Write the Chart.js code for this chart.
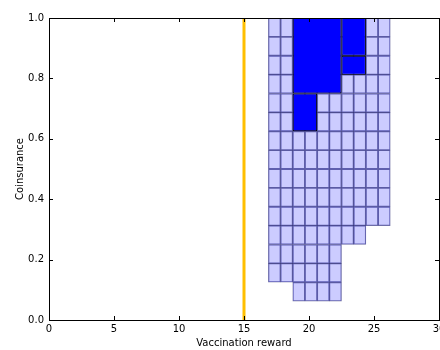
<!DOCTYPE html>
<html>
<head>
<meta charset="utf-8">
<script src="https://cdn.jsdelivr.net/npm/chart.js@4/dist/chart.umd.min.js"></script>
<style>
  html, body { margin: 0; padding: 0; background: #fff; overflow: hidden; }
  #wrap { width: 440px; height: 350px; }
</style>
</head>
<body>
<div id="wrap"><canvas id="c" width="440" height="350"></canvas></div>
<script>
// Grid of feasible cells: each column has a left edge, a lowest value and a top value
const cellWidth = 0.9375;
const rowHeight = 0.0625;
const colLeft   = [16.875, 17.8125, 18.75, 19.6875, 20.625, 21.5625, 22.5, 23.4375, 24.375, 25.3125];
const colBottom = [0.125, 0.125, 0.0625, 0.0625, 0.0625, 0.0625, 0.25, 0.25, 0.3125, 0.3125];
const colTop    = [1.0, 1.0, 1.0, 1.0, 1.0, 1.0, 1.0, 1.0, 1.0, 1.0];

// Highlighted regions [xStart, xEnd, yStart, yEnd]
const blocks = [
  [18.75, 22.5,    0.75,   1.0],
  [18.75, 20.625,  0.625,  0.75],
  [22.5,  24.375,  0.875,  1.0],
  [22.5,  24.375,  0.8125, 0.875]
];

// Reference vertical line
const thresholdX = 15;

// Axis ticks
const xTicks = [0, 5, 10, 15, 20, 25, 30];
const yTicks = [0.0, 0.2, 0.4, 0.6, 0.8, 1.0];

// One floating bar per cell
const cellData = [];
colLeft.forEach((left, i) => {
  const n = Math.round((colTop[i] - colBottom[i]) / rowHeight);
  for (let r = 0; r < n; r++) {
    const y0 = colBottom[i] + r * rowHeight;
    cellData.push({ x: left + cellWidth / 2, y: [y0, y0 + rowHeight] });
  }
});

// Cell edges, used as the base spacing of the block axis
const cellEdges = colLeft.concat([colLeft[colLeft.length - 1] + cellWidth]);

// One bar per highlighted region, its width a whole number of cells
const blockDatasets = blocks.map(([x0, x1, y0, y1], k) => ({
  label: 'block ' + (k + 1),
  xAxisID: 'xb',
  data: [{ x: (x0 + x1) / 2, y: [y0, y1] }],
  order: 0,
  backgroundColor: '#0000ff',
  borderColor: '#000000',
  borderWidth: 1,
  borderSkipped: false,
  grouped: false,
  categoryPercentage: 1,
  barPercentage: (x1 - x0) / cellWidth
}));

const FONT = { family: 'DejaVu Sans', size: 10 };

// Frame around the plot area and inward tick marks on all four sides
const framePlugin = {
  id: 'frame',
  afterDraw(chart) {
    const { ctx, chartArea: a, scales: { x, y } } = chart;
    const len = 4;
    ctx.save();
    ctx.strokeStyle = '#000';
    ctx.lineWidth = 1;
    ctx.beginPath();
    xTicks.forEach(v => {
      const px = Math.round(x.getPixelForValue(v)) + 0.5;
      ctx.moveTo(px, a.bottom); ctx.lineTo(px, a.bottom - len);
      ctx.moveTo(px, a.top); ctx.lineTo(px, a.top + len);
    });
    yTicks.forEach(v => {
      const py = Math.round(y.getPixelForValue(v)) + 0.5;
      ctx.moveTo(a.left, py); ctx.lineTo(a.left + len, py);
      ctx.moveTo(a.right, py); ctx.lineTo(a.right - len, py);
    });
    ctx.stroke();
    ctx.strokeRect(Math.round(a.left) + 0.5, Math.round(a.top) + 0.5,
                   Math.round(a.right - a.left), Math.round(a.bottom - a.top));
    ctx.restore();
  }
};

new Chart(document.getElementById('c'), {
  type: 'bar',
  data: {
    datasets: blockDatasets.concat([
      {
        type: 'line',
        label: 'threshold',
        data: [{ x: thresholdX, y: 0 }, { x: thresholdX, y: 1 }],
        order: 1,
        borderColor: '#ffbf00',
        borderWidth: 3,
        pointRadius: 0,
        fill: false
      },
      {
        label: 'cells',
        data: cellData,
        order: 2,
        backgroundColor: 'rgba(0,0,255,0.2)',
        borderColor: 'rgba(0,0,90,0.55)',
        borderWidth: 0.6,
        borderSkipped: false,
        grouped: false,
        barPercentage: 1,
        categoryPercentage: 1
      }
    ])
  },
  options: {
    responsive: false,
    devicePixelRatio: 1,
    animation: false,
    layout: { padding: { top: 18, right: 1, left: 0, bottom: 0 } },
    plugins: { legend: { display: false }, tooltip: { enabled: false } },
    scales: {
      x: {
        type: 'linear',
        min: 0, max: 30,
        offset: false,
        grid: { display: false, drawTicks: false, offset: false },
        border: { display: false },
        afterBuildTicks: s => { s.ticks = xTicks.map(v => ({ value: v })); },
        ticks: { font: FONT, color: '#000', padding: 3, maxRotation: 0, autoSkip: false },
        title: { display: true, text: 'Vaccination reward', font: FONT, color: '#000', padding: { top: 0, bottom: 1 } },
        afterFit: s => { s.height = 30; s.paddingRight = 0; s.paddingLeft = 0; }
      },
      xb: {
        type: 'linear',
        display: false,
        min: 0, max: 30,
        offset: false,
        grid: { offset: false },
        afterBuildTicks: s => { s.ticks = cellEdges.map(v => ({ value: v })); }
      },
      y: {
        type: 'linear',
        min: 0, max: 1,
        grid: { display: false, drawTicks: false },
        border: { display: false },
        afterBuildTicks: s => { s.ticks = yTicks.map(v => ({ value: v })); },
        ticks: { font: FONT, color: '#000', padding: 5, callback: v => Number(v).toFixed(1) },
        title: { display: true, text: 'Coinsurance', font: FONT, color: '#000', padding: { top: 14, bottom: 0 } },
        afterFit: s => { s.width = 49; s.paddingTop = 0; s.paddingBottom = 0; }
      }
    }
  },
  plugins: [framePlugin]
});
</script>
</body>
</html>
